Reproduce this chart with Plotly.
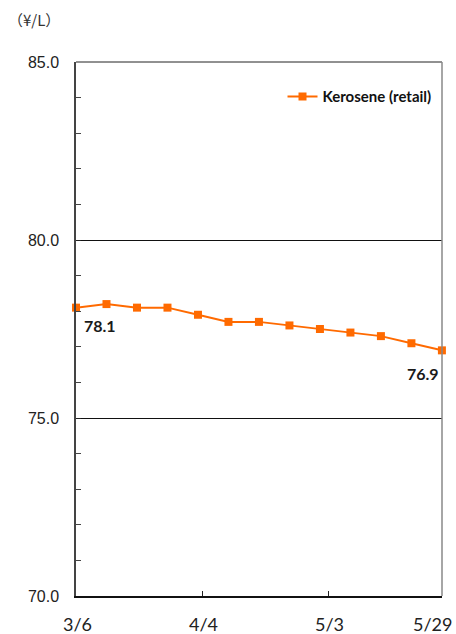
import plotly.graph_objects as go

# Weekly retail kerosene price (yen per litre)
dates = ["2023-03-06", "2023-03-13", "2023-03-20", "2023-03-27", "2023-04-03",
         "2023-04-10", "2023-04-17", "2023-04-24", "2023-05-01", "2023-05-08",
         "2023-05-15", "2023-05-22", "2023-05-29"]
kerosene = [78.1, 78.2, 78.1, 78.1, 77.9, 77.7, 77.7, 77.6, 77.5, 77.4, 77.3, 77.1, 76.9]

tick_dates = ["2023-03-06", "2023-04-04", "2023-05-03", "2023-05-29"]
tick_labels = ["3/6", "4/4", "5/3", "5/29"]
series_name = "Kerosene (retail)"
unit_label = "（¥/L）"

ORANGE = "#FF6A00"
LABEL_FONT = "Lato, 'DejaVu Sans', sans-serif"

fig = go.Figure()
fig.add_trace(go.Scatter(
    x=dates, y=kerosene, mode="lines+markers", name=series_name,
    line=dict(color=ORANGE, width=2),
    marker=dict(symbol="square", size=8, color=ORANGE),
    cliponaxis=False,
))

# value labels on the first and last points
fig.add_annotation(x=dates[0], y=kerosene[0], text=f"<b>{kerosene[0]:.1f}</b>",
                   showarrow=False, xshift=24, yshift=-18,
                   font=dict(family=LABEL_FONT, size=16, color="#1a1a1a"))
fig.add_annotation(x=dates[-1], y=kerosene[-1], text=f"<b>{kerosene[-1]:.1f}</b>",
                   showarrow=False, xshift=-19, yshift=-23,
                   font=dict(family=LABEL_FONT, size=16, color="#1a1a1a"))

# date labels under the x axis; the last one is kept inside the page edge
for i, (d, lab) in enumerate(zip(tick_dates, tick_labels)):
    last = i == len(tick_dates) - 1
    fig.add_annotation(x=d, y=0, xref="x", yref="paper",
                       xanchor="right" if last else "center", yanchor="top",
                       xshift=12 if last else 1, yshift=-15, showarrow=False, text=lab,
                       font=dict(family=LABEL_FONT, size=18, color="#222"))

# unit label above the y axis
fig.add_annotation(x=0, y=1, xref="paper", yref="paper", xanchor="left", yanchor="bottom",
                   xshift=-70, yshift=30, showarrow=False, text=unit_label,
                   font=dict(family="'Noto Sans CJK JP', sans-serif", size=15, color="#333"))

# plot frame: top and right edges
fig.add_shape(type="line", xref="paper", yref="paper", x0=0, x1=1, y0=1, y1=1,
              line=dict(color="#222", width=1))
fig.add_shape(type="line", xref="paper", yref="paper", x0=1, x1=1, y0=0, y1=1,
              line=dict(color="#888", width=1.5))

fig.update_layout(
    width=456, height=634,
    margin=dict(l=76, r=14, t=62, b=38),
    paper_bgcolor="white", plot_bgcolor="white",
    showlegend=True,
    legend=dict(x=0.985, y=0.935, xanchor="right", yanchor="middle",
                bgcolor="rgba(0,0,0,0)",
                font=dict(family=LABEL_FONT, size=15, color="#111", weight="bold")),
    xaxis=dict(
        type="date", range=["2023-03-06", "2023-05-29 00:30"],
        tickvals=tick_dates, showticklabels=False,
        ticks="inside", ticklen=5, tickcolor="#222", tickwidth=1,
        showgrid=False, showline=True, linecolor="#111", linewidth=2,
        zeroline=False, automargin=False,
    ),
    yaxis=dict(
        range=[70, 85], tick0=70, dtick=5, tickformat=".1f",
        ticks="inside", ticklen=5, tickcolor="#222",
        showgrid=True, gridcolor="#111", gridwidth=1,
        showline=True, linecolor="#444", linewidth=1.5,
        tickfont=dict(family="'Liberation Sans', Arial, sans-serif", size=16, color="#222"),
        minor=dict(dtick=1, ticks="inside", ticklen=5, tickcolor="#444", showgrid=False),
        zeroline=False, ticklabelstandoff=12, automargin=False,
    ),
)

fig.write_html("out.html")
